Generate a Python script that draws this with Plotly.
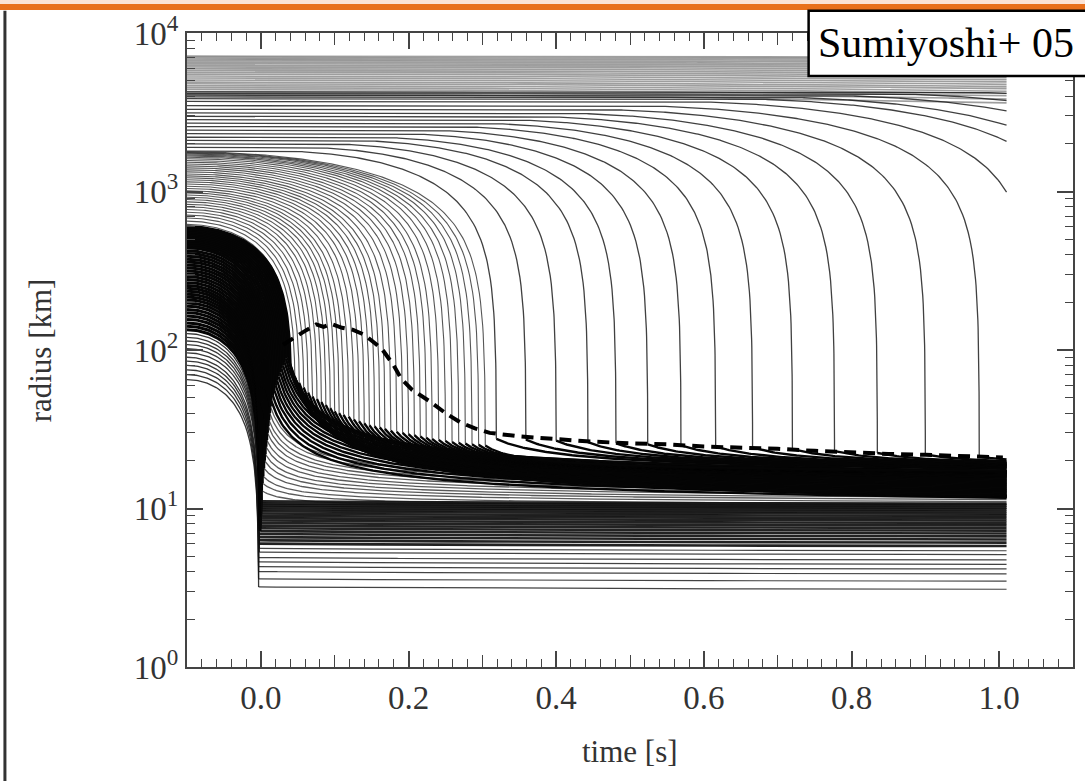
import numpy as np
import plotly.graph_objects as go

# ---------------- data ----------------
T_START, T_END = -0.1, 1.01          # time span of the shell tracks [s]

# outer envelope shells: radius at t=-0.1 [km] and (late) collapse time [s]
env_r0 = [4100, 4250, 4400, 4520, 4650, 4780, 4900, 5050, 5200, 5350, 5500,
          5650, 5800, 5950, 6100, 6250, 6400, 6550, 6700, 6850, 7000, 7150]
env_tf = [2.6, 2.8, 3.0, 3.1, 3.2, 3.4, 3.5, 3.6, 3.8, 3.9, 4.0,
          4.2, 4.3, 4.5, 4.6, 4.8, 5.0, 5.1, 5.3, 5.5, 5.7, 5.9]

# late-falling shells (individually visible arcs)
late_tf = [0.319, 0.359, 0.400, 0.443, 0.481, 0.524, 0.569, 0.616, 0.666, 0.720,
           0.777, 0.835, 0.900, 0.973, 1.045, 1.12, 1.17, 1.24, 1.32, 1.42]
late_r0 = [1800, 1900, 2000, 2100, 2200, 2320, 2440, 2570, 2700, 2840,
           2980, 3130, 3300, 3480, 3700, 3850, 3950, 4050, 4150, 4250]
late_T = [0.30, 0.31, 0.32, 0.33, 0.34, 0.35, 0.36, 0.37, 0.39, 0.41,
          0.43, 0.45, 0.47, 0.49, 0.50, 0.50, 0.50, 0.50, 0.50, 0.50]
late_rl = [27.5, 27.2, 26.8, 26.2, 25.8, 25.4, 25.0, 24.6, 24.2, 23.7,
           23.0, 22.4, 21.9, 21.3, 21.0, 21.0, 21.0, 21.0, 21.0, 21.0]
late_rinf = [15.0, 15.2, 15.4, 15.6, 15.8, 16.0, 16.1, 16.2, 16.4, 16.6,
             16.8, 17.0, 17.2, 17.4, 17.5, 17.5, 17.5, 17.5, 17.5, 17.5]

# early-falling shells (dense fan of arcs landing 0.04 - 0.3 s)
early_tf = [0.040, 0.046, 0.052, 0.058, 0.064, 0.070, 0.076, 0.082, 0.088, 0.094,
            0.100, 0.106, 0.112, 0.119, 0.126, 0.133, 0.140, 0.147, 0.154, 0.161,
            0.168, 0.176, 0.184, 0.192, 0.200, 0.208, 0.216, 0.224, 0.232, 0.241,
            0.250, 0.259, 0.268, 0.277, 0.286, 0.295, 0.304]
early_r0 = [620, 650, 680, 710, 740, 770, 800, 830, 860, 890,
            920, 950, 980, 1010, 1045, 1080, 1115, 1150, 1185, 1220,
            1255, 1290, 1330, 1370, 1410, 1450, 1490, 1530, 1570, 1610,
            1645, 1675, 1700, 1725, 1745, 1762, 1778]
early_rl = [75, 68, 62, 58, 54, 51, 49, 47, 45, 43,
            41, 40, 39, 38, 36.5, 35.5, 34.5, 33.5, 33, 32.5,
            31.8, 31, 30.5, 30, 29.5, 29, 28.5, 28, 27.5, 27.1,
            26.7, 26.3, 26, 25.7, 25.4, 25.2, 25]
early_rinf = [8.0, 8.2, 8.4, 8.6, 8.8, 9.0, 9.3, 9.6, 9.9, 10.2,
              10.5, 10.8, 11.1, 11.4, 11.7, 12.0, 12.3, 12.6, 12.9, 13.2,
              13.5, 13.7, 13.9, 14.1, 14.3, 14.5, 14.7, 14.9, 15.0, 15.1,
              15.2, 15.3, 15.4, 15.5, 15.6, 15.7, 15.8]

# shells landing right after bounce (0.014 - 0.04 s)
mid_r0 = [440, 452, 464, 476, 488, 500, 512, 524, 536, 548, 560, 572, 585, 600]
mid_tf = [0.014, 0.016, 0.018, 0.020, 0.022, 0.024, 0.026, 0.028, 0.030, 0.032,
          0.034, 0.036, 0.038, 0.040]
mid_rl = [48, 52, 56, 60, 64, 68, 72, 76, 80, 84, 88, 90, 86, 80]
mid_rinf = [9.0, 9.3, 9.6, 9.9, 10.2, 10.5, 10.8, 11.1, 11.4, 11.7,
            12.0, 12.3, 12.6, 12.9]

# inner core shells (collapse at bounce, t ~ 0)
core_r0 = [65, 70, 75, 80, 85, 90, 96, 102, 108, 114, 120, 127, 134, 141, 148,
           156, 164, 172, 180, 189, 198, 207, 216, 225, 235, 245,
           255, 266, 278, 290, 303, 316, 330, 344, 359, 374, 390, 406, 422]
core_tf = [-0.003, -0.003, -0.003, -0.003, -0.003, -0.003, -0.002, -0.002, -0.002,
           -0.002, -0.002, -0.002, -0.001, -0.001, -0.001, -0.001, -0.001, -0.001,
           0.0, 0.0, 0.0, 0.0, 0.0, 0.0, 0.0, 0.0,
           0.001, 0.002, 0.003, 0.004, 0.005, 0.006, 0.007, 0.008, 0.009, 0.010,
           0.011, 0.012, 0.013]
core_rl = [3.2, 3.6, 4.0, 4.3, 4.6, 4.9, 5.3, 5.6, 6.0, 6.3, 6.6, 6.9, 7.2, 7.5,
           7.8, 8.1, 8.4, 8.7, 9.0, 9.3, 9.6, 9.9, 10.2, 10.5, 10.8, 11.1,
           13, 14.5, 16, 18, 20, 22, 24.5, 27, 30, 33, 36, 40, 44]
core_rinf = [2.98, 3.35, 3.72, 4.0, 4.28, 4.56, 4.93, 5.21, 5.58, 5.86, 6.14, 6.42,
             6.7, 6.98, 7.25, 7.53, 7.81, 8.09, 8.37, 8.65, 8.93, 9.21, 9.49, 9.77,
             10.04, 10.32,
             9.6, 9.8, 10.0, 10.2, 10.4, 10.6, 10.8, 11.0, 11.2, 11.4, 11.6, 11.8, 12.0]

# shock position (dashed line)
shock_t = [0.030, 0.045, 0.060, 0.075, 0.085, 0.095, 0.110, 0.125, 0.140, 0.155,
           0.165, 0.180, 0.190, 0.205, 0.230, 0.250, 0.270, 0.290, 0.310, 0.350,
           0.400, 0.450, 0.500, 0.550, 0.600, 0.650, 0.700, 0.750, 0.800, 0.850,
           0.900, 0.950, 1.005]
shock_r = [108, 120, 132, 145, 140, 146, 138, 134, 125, 110, 100, 80, 66, 56, 47,
           40, 35, 32, 30, 28.5, 27.4, 26.4, 25.8, 25.4, 24.6, 24.3, 23.8, 23.1,
           22.5, 22.1, 21.8, 21.4, 21.0]

x_tickvals = [0.0, 0.2, 0.4, 0.6, 0.8, 1.0]
x_ticktext = ["0.0", "0.2", "0.4", "0.6", "0.8", "1.0"]
y_tickvals = [1, 10, 100, 1000, 10000]
y_ticktext = ["10<sup>0</sup>", "10<sup>1</sup>", "10<sup>2</sup>", "10<sup>3</sup>", "10<sup>4</sup>"]

# ---------------- shell track construction ----------------
BASE_T = np.linspace(T_START, T_END, 450)


def track(r0, ts, tf, rl, rinf, tau):
    """Return (infall part, settled part) of one mass-shell trajectory."""
    parts = [BASE_T, tf - np.geomspace(1e-5, 0.1, 45), tf + np.geomspace(1e-5, 0.3, 35), [tf]]
    t = np.unique(np.concatenate(parts))
    t = t[(t >= T_START) & (t <= T_END)]
    r = np.full_like(t, float(r0))
    fall = (t >= ts) & (t < tf)
    x = (t[fall] - ts) / (tf - ts)
    r[fall] = rl + (r0 - rl) * (1 - x ** 2) ** (2.0 / 3.0)
    post = t >= tf
    L0 = np.log10(rl / rinf)
    r[post] = rinf * 10 ** (L0 / np.sqrt(1 + (t[post] - tf) / tau))
    pre = t <= tf
    return (t[pre], r[pre]), (t[post], r[post])


def collect(tracks):
    xs, ys = [], []
    for t, r in tracks:
        if len(t) == 0:
            continue
        xs.extend(t.tolist()); xs.append(None)
        ys.extend(r.tolist()); ys.append(None)
    return xs, ys


env = [track(r0, T_START, tf, 20.0, 15.0, 0.1) for r0, tf in zip(env_r0, env_tf)]
late = [track(r0, tf - T, tf, rl, ri, 0.06)
        for r0, tf, T, rl, ri in zip(late_r0, late_tf, late_T, late_rl, late_rinf)]
early = [track(r0, T_START, tf, rl, ri, 0.03)
         for r0, tf, rl, ri in zip(early_r0, early_tf, early_rl, early_rinf)]
mid = [track(r0, T_START, tf, rl, ri, 0.025)
       for r0, tf, rl, ri in zip(mid_r0, mid_tf, mid_rl, mid_rinf)]
core = [track(r0, T_START, tf, rl, ri, 0.02 if rl > 12 else 0.4)
        for r0, tf, rl, ri in zip(core_r0, core_tf, core_rl, core_rinf)]
core_small = [c for c, r0 in zip(core, core_r0) if r0 < 130]
core_big = [c for c, r0 in zip(core, core_r0) if r0 >= 130]
core_deep = [c for c, rl in zip(core, core_rl) if rl < 6]
core_dense = [c for c, rl in zip(core, core_rl) if 6 <= rl <= 12]
core_outer = [c for c, rl in zip(core, core_rl) if rl > 12]

fig = go.Figure()
layers = [
    ([p for p, _ in env], "rgba(40,40,40,0.45)", 1.6),
    ([p for p, _ in late], "rgba(30,30,30,0.85)", 1.3),
    ([p for p, _ in early], "rgba(30,30,30,0.75)", 1.1),
    ([p for p, _ in core_small], "rgba(20,20,20,0.85)", 1.3),
    ([p for p, _ in core_big], "rgba(5,5,5,1)", 3.0),
    ([p for p, _ in mid], "rgba(5,5,5,1)", 2.8),
    ([q for _, q in core_deep], "rgba(20,20,20,0.8)", 1.2),
    ([q for _, q in core_dense], "rgba(10,10,10,0.9)", 2.6),
    ([q for _, q in core_outer], "rgba(20,20,20,0.7)", 1.3),
    ([q for _, q in mid], "rgba(5,5,5,1)", 2.4),
    ([q for _, q in early], "rgba(5,5,5,1)", 2.4),
    ([q for _, q in late], "rgba(5,5,5,1)", 2.4),
]
for trs, col, w in layers:
    xs, ys = collect(trs)
    fig.add_trace(go.Scatter(x=xs, y=ys, mode="lines", line=dict(color=col, width=w),
                             hoverinfo="skip", showlegend=False, connectgaps=False))

fig.add_trace(go.Scatter(x=shock_t, y=shock_r, mode="lines", xaxis="x2",
                         line=dict(color="black", width=4, dash="12px,7px"),
                         hoverinfo="skip", showlegend=False))

# ---------------- layout ----------------
FONT = "Liberation Serif, Times New Roman, serif"
AX = "#444"
minor_y = [m * 10 ** k for k in range(0, 4) for m in range(2, 10)]

fig.update_layout(
    width=1085, height=781,
    margin=dict(l=187, r=10, t=32, b=114),
    paper_bgcolor="white", plot_bgcolor="white",
    xaxis=dict(range=[-0.1, 1.1], tickmode="array", tickvals=x_tickvals, ticktext=x_ticktext,
               ticks="inside", ticklen=16, tickwidth=1.5, tickcolor=AX,
               showline=True, linecolor=AX, linewidth=2, mirror="ticks",
               showgrid=False, zeroline=False,
               minor=dict(ticks="inside", dtick=0.02, tick0=0, ticklen=8, tickwidth=1.3,
                          tickcolor=AX, showgrid=False),
               tickfont=dict(family=FONT, size=33, color="#333")),
    xaxis2=dict(range=[-0.1, 1.1], overlaying="x", anchor="y", side="bottom",
                tickmode="array", tickvals=[0.1, 0.3, 0.5, 0.7, 0.9],
                showticklabels=False, ticks="inside", ticklen=12, tickwidth=1.4,
                tickcolor=AX, mirror="ticks", showline=False, showgrid=False, zeroline=False),
    yaxis=dict(type="log", range=[0, 4], tickmode="array", tickvals=y_tickvals,
               ticktext=y_ticktext, ticks="inside", ticklen=16, tickwidth=1.5, tickcolor=AX,
               showline=True, linecolor=AX, linewidth=2, mirror="ticks",
               showgrid=False, zeroline=False,
               minor=dict(ticks="inside", tickvals=minor_y, ticklen=8, tickwidth=1.3,
                          tickcolor=AX, showgrid=False),
               tickfont=dict(family=FONT, size=33, color="#333")),
    shapes=[
        dict(type="rect", xref="paper", yref="paper", x0=-0.3, x1=1.1, y0=1.0457, y1=1.06,
             fillcolor="#FBE3D5", line=dict(width=0), layer="above"),
        dict(type="rect", xref="paper", yref="paper", x0=-0.3, x1=1.1, y0=1.0362, y1=1.0457,
             fillcolor="#E8701C", line=dict(width=0), layer="above"),
        dict(type="line", xref="paper", yref="paper", x0=-0.2055, x1=-0.2055, y0=-0.3, y1=1.035,
             line=dict(color="#333", width=3), layer="above"),
        dict(type="rect", xref="paper", yref="paper", x0=0.7016, x1=1.02, y0=0.9323, y1=1.0350,
             fillcolor="white", line=dict(color="black", width=2.5), layer="above"),
    ],
    annotations=[
        dict(text="Sumiyoshi+ 05", xref="paper", yref="paper", x=0.8564, y=0.9843,
             showarrow=False, font=dict(family=FONT, size=42, color="black"),
             xanchor="center", yanchor="middle"),
        dict(text="time [s]", xref="paper", yref="paper", x=0.5, y=-0.1339,
             showarrow=False, font=dict(family=FONT, size=31, color="#333"),
             xanchor="center", yanchor="middle"),
        dict(text="radius [km]", xref="paper", yref="paper", x=-0.1655, y=0.5, textangle=-90,
             showarrow=False, font=dict(family=FONT, size=31, color="#333"),
             xanchor="center", yanchor="middle"),
    ],
)

fig.write_html("out.html")
